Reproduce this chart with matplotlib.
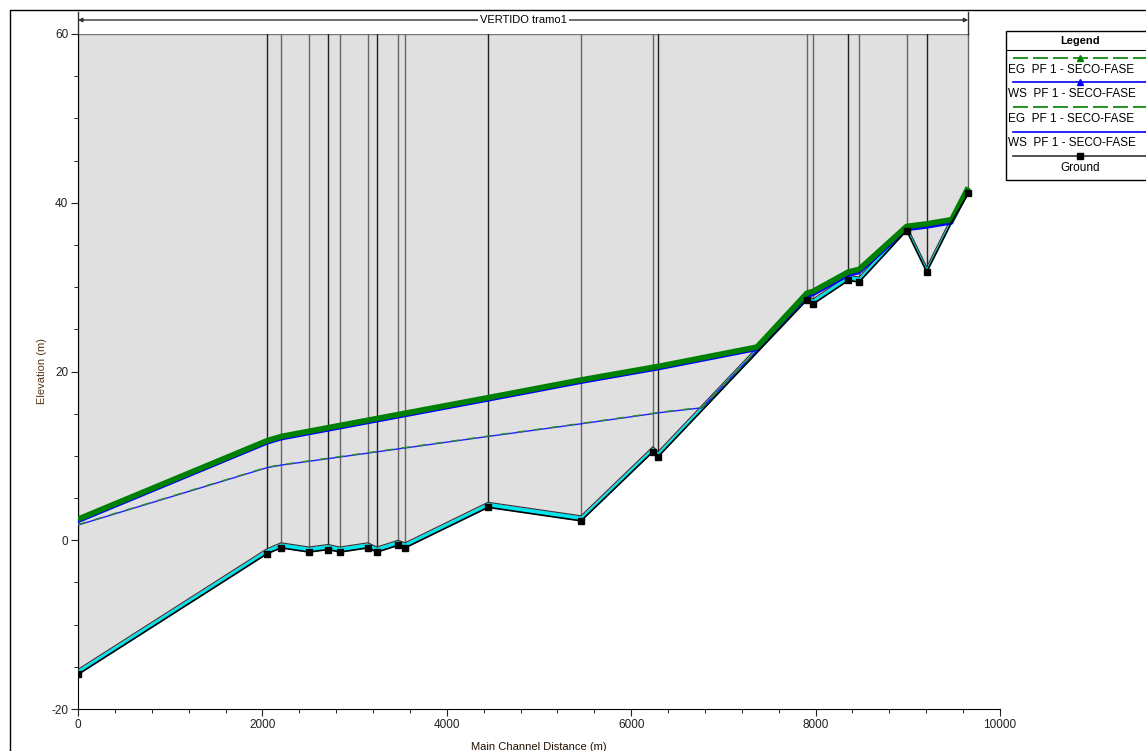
import numpy as np
import matplotlib.pyplot as plt
from matplotlib.lines import Line2D
from matplotlib.patches import Rectangle

plt.rcParams['font.family'] = ['Liberation Sans', 'DejaVu Sans']
plt.rcParams['axes.unicode_minus'] = False

# river stations (m) where cross sections are drawn
stations = [0, 2050, 2202, 2505, 2711, 2842, 3145, 3243, 3471, 3547, 4447,
            5456, 6236, 6291, 7907, 7972, 8355, 8471, 8987, 9205, 9656]

# ground profile (includes one break point without a section)
ground_x = [0, 2050, 2202, 2505, 2711, 2842, 3145, 3243, 3471, 3547, 4447,
            5456, 6236, 6291, 7907, 7972, 8355, 8471, 8987, 9205, 9476, 9656]
ground_z = [-15.9, -1.6, -0.9, -1.4, -1.1, -1.4, -0.9, -1.4, -0.6, -0.9, 3.9,
            2.3, 10.5, 9.9, 28.5, 28.0, 30.8, 30.6, 36.7, 31.8, 37.7, 41.1]

# profile 1 energy grade / water surface (upper pair)
eg1_x = [0, 2050, 2202, 4447, 5456, 6236, 6291, 7364, 7907, 7972, 8355, 8471,
         8987, 9205, 9476, 9656]
eg1_z = [2.5, 11.8, 12.3, 16.9, 19.0, 20.5, 20.6, 22.9, 29.3, 29.5, 31.8, 32.1,
         37.2, 37.5, 38.0, 41.8]
ws1_z = [2.2, 11.5, 12.0, 16.6, 18.7, 20.2, 20.3, 22.6, 28.9, 29.1, 31.4, 31.7,
         36.8, 37.1, 37.6, 41.4]

# profile 2 energy grade / water surface (lower pair)
ws2_x = [0, 2050, 2202, 4447, 5456, 6236, 6291, 6768, 7364, 7907, 7972, 8355,
         8471, 8987, 9205, 9476, 9656]
ws2_z = [1.8, 8.6, 8.9, 12.3, 13.8, 15.0, 15.1, 15.7, 22.5, 28.9, 29.1, 31.4,
         31.7, 36.8, 37.1, 37.6, 41.4]
eg2_z = [1.85, 8.65, 8.95, 12.35, 13.85, 15.05, 15.15, 15.75, 22.5, 28.9, 29.1,
         31.4, 31.7, 36.8, 37.1, 37.6, 41.4]

reach_name = "VERTIDO tramo1"
legend_labels = ["EG  PF 1 - SECO-FASE", "WS  PF 1 - SECO-FASE",
                 "EG  PF 1 - SECO-FASE", "WS  PF 1 - SECO-FASE", "Ground"]

W, H = 1146, 751
fig = plt.figure(figsize=(W / 100, H / 100), dpi=100)
fig.patch.set_facecolor('white')


def fp(x, y):
    return x / W, 1 - y / H


ax = fig.add_axes([78 / W, 1 - 709 / H, (1000 - 78) / W, (709 - 34) / H])
ax.set_xlim(0, 10000)
ax.set_ylim(-20, 60)
top = 60

gx = np.array(ground_x)
gz = np.array(ground_z)

# grey section area above ground
ax.fill_between(gx, gz, top, color='#e0e0e0', lw=0, zorder=1)
ax.plot([0, stations[-1]], [top, top], color='#777777', lw=1, zorder=2)

# station lines
for i, s in enumerate(stations):
    zg = np.interp(s, gx, gz)
    c = '#222222' if i % 3 == 1 else '#666666'
    ax.plot([s, s], [zg, top], color=c, lw=1, zorder=2)

# thin wetted band along the bed
band = 0.6
ax.fill_between(gx, gz, gz + band, color='#00e5ee', lw=0, zorder=3)
ax.plot(gx, gz + band, color='#333333', lw=0.8, zorder=3)

# lower water surface pair
ax.plot(ws2_x, ws2_z, color='#2020ff', lw=1.0, zorder=4)
ax.plot(ws2_x, eg2_z, color='#2e8b2e', lw=1.0, ls=(0, (6, 6)), zorder=4)

# upper water surface pair
ax.plot(eg1_x, ws1_z, color='#0000ff', lw=2.2, zorder=5)
ax.plot(eg1_x, eg1_z, color='#008000', lw=4.0, zorder=6, solid_capstyle='butt')

# ground
ax.plot(gx, gz, color='black', lw=1.2, zorder=7)
mk = [i for i, x in enumerate(ground_x) if x in stations]
ax.plot(gx, gz, ls='none', marker='s', ms=5, color='black', markevery=mk,
        zorder=8)

for sp in ['top', 'right']:
    ax.spines[sp].set_visible(False)
ax.set_xticks(np.arange(0, 10001, 2000))
ax.set_xticks(np.arange(0, 10001, 400), minor=True)
ax.set_yticks(np.arange(-20, 61, 20))
ax.set_yticks(np.arange(-20, 61, 5), minor=True)
ax.tick_params(labelsize=8.5, length=5, pad=2, colors='#222222')
ax.tick_params(which='minor', length=3)
ax.set_xlabel('Main Channel Distance (m)', fontsize=8, labelpad=8, color='#221100')
ax.set_ylabel('Elevation (m)', fontsize=8, labelpad=3, color='#553311')

# reach banner with arrows
yb = 1 + 14 / 675
ax.annotate('', xy=(0, yb), xytext=(stations[-1], yb),
            xycoords=('data', 'axes fraction'),
            arrowprops=dict(arrowstyle='<|-|>', color='#333333', lw=1,
                            mutation_scale=6, shrinkA=0, shrinkB=0))
for s in [0, stations[-1]]:
    ax.plot([s, s], [1.0, 1 + 22 / 675], color='#333333', lw=1,
            transform=ax.get_xaxis_transform(), clip_on=False)
ax.text(stations[-1] / 2, yb, reach_name, ha='center', va='center', fontsize=8,
        transform=ax.get_xaxis_transform(),
        bbox=dict(facecolor='white', edgecolor='none', pad=1.5))

# outer frame
fig.add_artist(Line2D(*zip(fp(10, 760), fp(10, 10), fp(1160, 10)),
                      color='black', lw=1))

# legend box
x0, y0, y1 = 1006, 31, 180
fig.add_artist(Rectangle(fp(x0, y1), (1160 - x0) / W, (y1 - y0) / H,
                         facecolor='white', edgecolor='black', lw=1,
                         transform=fig.transFigure))
fig.add_artist(Line2D(*zip(fp(x0, 50), fp(1160, 50)), color='black', lw=0.8))
fig.text(*fp(1080, 41), 'Legend', ha='center', va='center', fontsize=8,
         fontweight='bold')

styles = [('#008000', (0, (9, 3)), '^'), ('#0000ff', '-', '^'),
          ('#008000', (0, (9, 3)), None), ('#0000ff', '-', None),
          ('#333333', '-', 's')]
line_y = [58, 82, 107, 132, 156]
text_y = [70, 94, 119, 143, 168]
for (c, ls, m), ly, ty, lab in zip(styles, line_y, text_y, legend_labels):
    fig.add_artist(Line2D(*zip(fp(1013, ly), fp(1160, ly)), color=c, ls=ls,
                          lw=1.2))
    if m:
        fig.add_artist(Line2D([fp(1080, ly)[0]], [fp(1080, ly)[1]], marker=m,
                              color='black' if m == 's' else c, ms=5, ls='none'))
    if lab == 'Ground':
        fig.text(*fp(1080, ty), lab, ha='center', va='center', fontsize=8.5)
    else:
        fig.text(*fp(1008, ty), lab, ha='left', va='center', fontsize=8.5)

plt.savefig('out.png', dpi=100)
